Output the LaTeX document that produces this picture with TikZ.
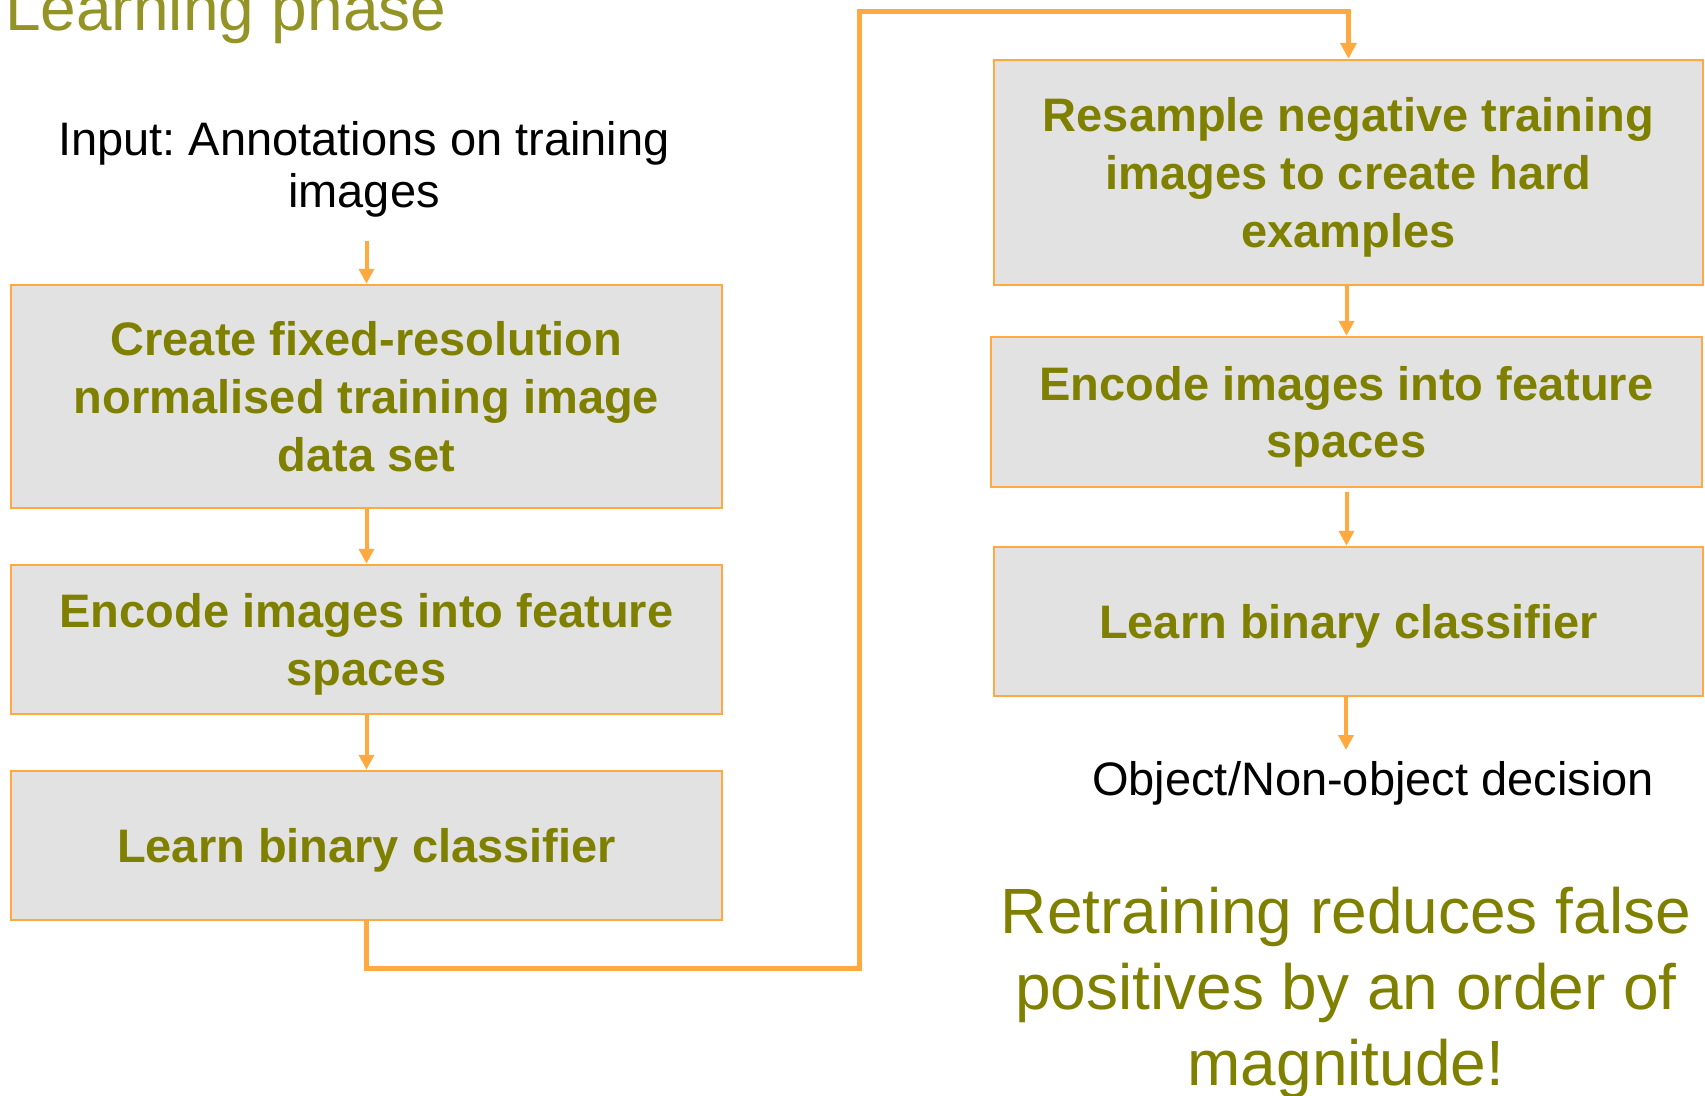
\documentclass[tikz,border=0pt]{standalone}
\usepackage{fontspec}
\setmainfont{Liberation Sans}
\usetikzlibrary{arrows.meta,calc}
\definecolor{flowline}{HTML}{FFA940}
\definecolor{boxfill}{HTML}{E2E2E2}
\definecolor{olivetext}{HTML}{808000}
\definecolor{titletext}{HTML}{939326}
\frenchspacing

\begin{document}
\begin{tikzpicture}[x=1pt,y=-1pt,
  stepbox/.style={draw=flowline, line width=2.5pt, fill=boxfill, inner sep=0pt,
    align=center, text=olivetext, text depth=-11.5pt,
    font=\fontsize{47}{57.6}\selectfont\bfseries},
  plaintext/.style={align=center, inner sep=0pt, font=\fontsize{47}{52}\selectfont},
  arr/.style={draw=flowline, line width=4pt, -{Triangle[width=15pt,length=15pt]}},
  loopline/.style={draw=flowline, line width=5pt, -{Triangle[width=16pt,length=16pt]}}
]
\useasboundingbox (0,0) rectangle (1705,1095);

% heading, partly cut by the page edge
\node[anchor=base west, inner sep=0pt, text=titletext,
      font=\fontsize{64}{70}\selectfont] (title) at (5,30) {Learning phase};

% left column
\node[plaintext] (input) at (364,169) {Input: Annotations on training\\images};
\node[stepbox, minimum width=711pt, minimum height=223pt] (L1) at (366.5,396.5)
  {Create fixed-resolution\\normalised training image\\data set};
\node[stepbox, minimum width=711pt, minimum height=149pt] (L2) at (366.5,639.5)
  {Encode images into feature\\spaces};
\node[stepbox, minimum width=711pt, minimum height=149pt] (L3) at (366.5,845.5)
  {Learn binary classifier};

% right column
\node[stepbox, minimum width=709pt, minimum height=225pt] (R1) at (1348.5,172.5)
  {Resample negative training\\images to create hard\\examples};
\node[stepbox, minimum width=711pt, minimum height=150pt] (R2) at (1346.5,412)
  {Encode images into feature\\spaces};
\node[stepbox, minimum width=709pt, minimum height=149pt] (R3) at (1348.5,621.5)
  {Learn binary classifier};
\node[plaintext] (decision) at (1373,783) {Object/Non-object decision};
\coordinate (decin) at (1346,750);

\node[align=center, inner sep=0pt, text=olivetext,
      font=\fontsize{64}{76}\selectfont] (retrain) at (1346,993)
  {Retraining reduces false\\positives by an order of\\magnitude!};

% connectors
\draw[arr, shorten <=24pt] (input.south -| L1.north) -- (L1.north);
\draw[arr] (L1.south) -- (L2.north);
\draw[arr] (L2.south) -- (L3.north);

\coordinate (loopA) at (859,968);
\coordinate (loopB) at (859,11);
\draw[loopline] (L3.south) |- (loopA) -- (loopB) -| (R1.north);

\draw[arr] (R2.north |- R1.south) -- (R2.north);
\draw[arr, shorten <=4pt] (R2.south) -- (R2.south |- R3.north);
\draw[arr] (R3.south -| decin) -- (decin);
\end{tikzpicture}
\end{document}
